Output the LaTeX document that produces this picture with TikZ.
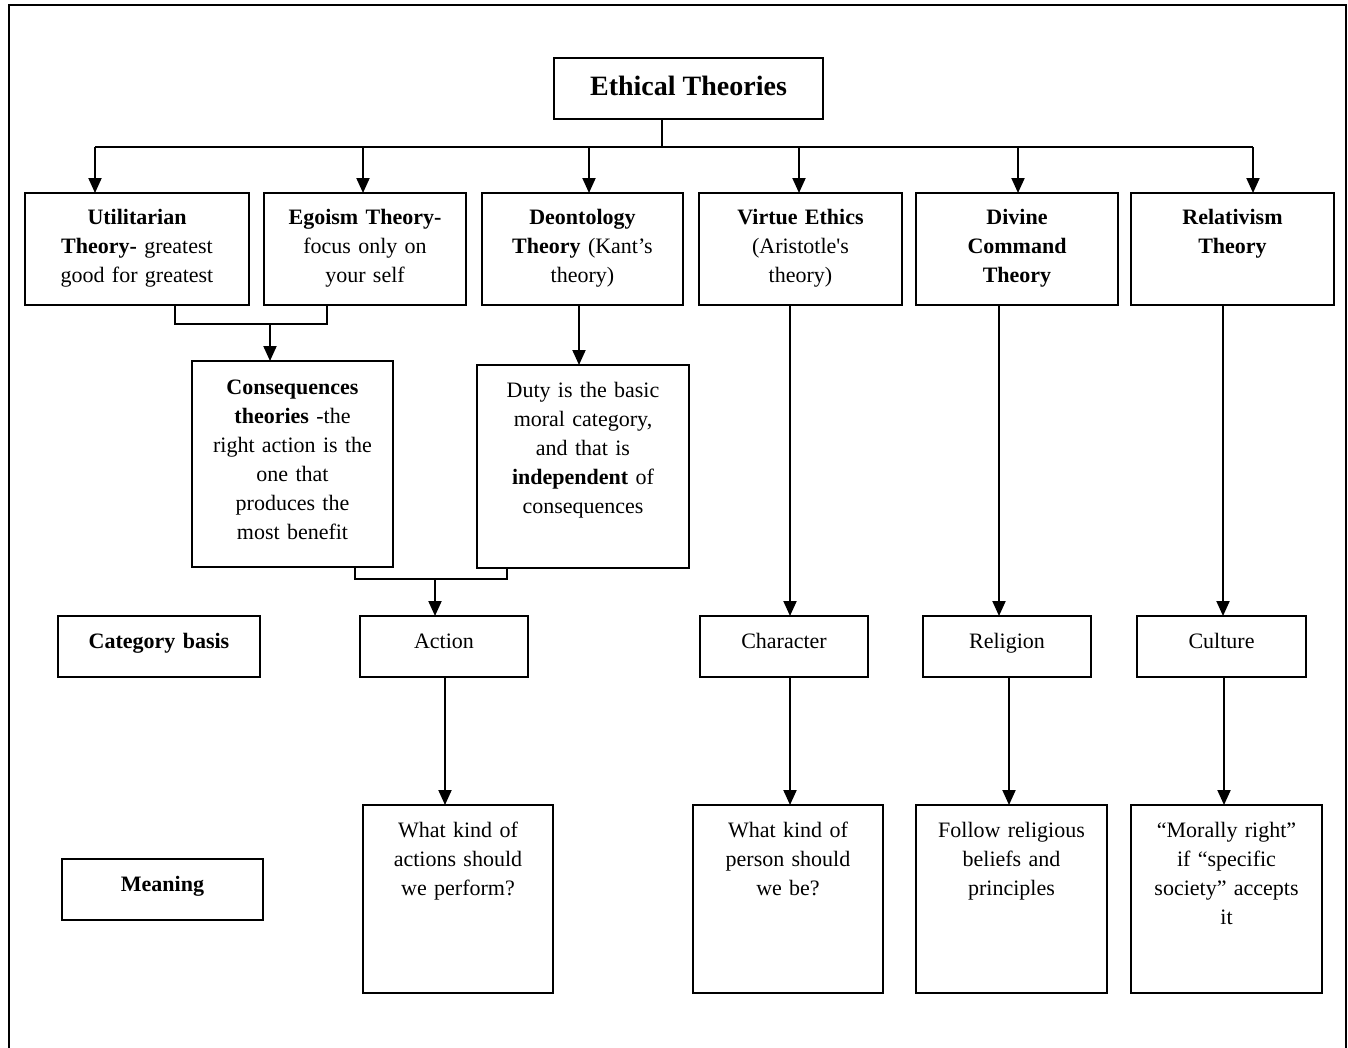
\documentclass[tikz,border=0pt]{standalone}
\usepackage{fontspec}
\setmainfont{Liberation Serif}[Ligatures=TeXOff]
\usetikzlibrary{arrows.meta}
\tikzset{
  box/.style={draw, line width=1.8pt, inner sep=0pt, outer sep=0pt},
  txt/.style={inner sep=0pt, outer sep=0pt, align=center, text width=240pt,
    font=\fontsize{22}{29}\selectfont},
  ln/.style={line width=2pt},
  arr/.style={line width=2pt, -{Triangle[length=15pt,width=13pt]}},
}
\newcommand\mkbox[7]{%
  \node[box, anchor=north west, minimum width={#4pt-#2pt}, minimum height={#5pt-#3pt}] (#1) at (#2,#3) {};
  \node[txt, anchor=base] (#1t) at ([yshift=-#6pt]#1.north) {#7};
}
\begin{document}
\begin{tikzpicture}[x=1pt,y=-1pt]
\useasboundingbox (0,0) rectangle (1348,1047);
% outer frame
\draw[line width=2pt] (9,1050) -- (9,5) -- (1346,5) -- (1346,1050);
% title
\node[box, anchor=north west, minimum width=269pt, minimum height=61pt] (title) at (554,58) {};
\node[inner sep=0pt, anchor=base, font=\fontsize{28}{32}\selectfont\bfseries] (titlet) at ([yshift=-37pt]title.north) {Ethical Theories};
% row 1
\mkbox{u}{25}{193}{249}{305}{31}{\textbf{Utilitarian}\\ \textbf{Theory-} greatest\\ good for greatest}
\mkbox{e}{264}{193}{466}{305}{31}{\textbf{Egoism Theory-}\\ focus only on\\ your self}
\mkbox{d}{482}{193}{683}{305}{31}{\textbf{Deontology}\\ \textbf{Theory} (Kant’s\\ theory)}
\mkbox{v}{699}{193}{902}{305}{31}{\textbf{Virtue Ethics}\\ (Aristotle's\\ theory)}
\mkbox{dv}{916}{193}{1118}{305}{31}{\textbf{Divine}\\ \textbf{Command}\\ \textbf{Theory}}
\mkbox{r}{1131}{193}{1334}{305}{31}{\textbf{Relativism}\\ \textbf{Theory}}
% row 2
\mkbox{cq}{192}{361}{393}{567}{33}{\textbf{Consequences}\\ \textbf{theories} -the\\ right action is the\\ one that\\ produces the\\ most benefit}
\mkbox{du}{477}{365}{689}{568}{32}{Duty is the basic\\ moral category,\\ and that is\\ \textbf{independent} of\\ consequences}
% row 3
\mkbox{cat}{58}{616}{260}{677}{32}{\textbf{Category basis}}
\mkbox{act}{360}{616}{528}{677}{32}{Action}
\mkbox{chr}{700}{616}{868}{677}{32}{Character}
\mkbox{rel}{923}{616}{1091}{677}{32}{Religion}
\mkbox{cul}{1137}{616}{1306}{677}{32}{Culture}
% row 4
\mkbox{mean}{62}{859}{263}{920}{32}{\textbf{Meaning}}
\mkbox{m1}{363}{805}{553}{993}{32}{What kind of\\ actions should\\ we perform?}
\mkbox{m2}{693}{805}{883}{993}{32}{What kind of\\ person should\\ we be?}
\mkbox{m3}{916}{805}{1107}{993}{32}{Follow religious\\ beliefs and\\ principles}
\mkbox{m4}{1131}{805}{1322}{993}{32}{“Morally right”\\ if “specific\\ society” accepts\\ it}
% top connectors
\coordinate (hub) at (662,147);
\coordinate (a1) at (95,147);
\coordinate (a2) at (363,147);
\coordinate (a3) at (589,147);
\coordinate (a4) at (799,147);
\coordinate (a5) at (1018,147);
\coordinate (a6) at (1253,147);
\draw[ln] (title.south -| hub) -- (hub);
\draw[ln] (a1) -- (a6);
\draw[arr] (a1) -- (a1 |- u.north);
\draw[arr] (a2) -- (a2 |- e.north);
\draw[arr] (a3) -- (a3 |- d.north);
\draw[arr] (a4) -- (a4 |- v.north);
\draw[arr] (a5) -- (a5 |- dv.north);
\draw[arr] (a6) -- (a6 |- r.north);
% utilitarian + egoism -> consequences
\coordinate (j1a) at (175,324);
\coordinate (j1b) at (327,324);
\coordinate (j1c) at (270,324);
\draw[ln] (j1a |- u.south) -- (j1a) -- (j1b) -- (j1b |- e.south);
\draw[arr] (j1c) -- (j1c |- cq.north);
% deontology -> duty
\coordinate (dd) at (579,305);
\draw[arr] (dd |- d.south) -- (dd |- du.north);
% consequences + duty -> action
\coordinate (j2a) at (355,579);
\coordinate (j2b) at (507,579);
\coordinate (j2c) at (435,579);
\draw[ln] (j2a |- cq.south) -- (j2a) -- (j2b) -- (j2b |- du.south);
\draw[arr] (j2c) -- (j2c |- act.north);
% long verticals
\coordinate (vx) at (790,0);
\coordinate (dvx) at (999,0);
\coordinate (rx) at (1223,0);
\draw[arr] (vx |- v.south) -- (vx |- chr.north);
\draw[arr] (dvx |- dv.south) -- (dvx |- rel.north);
\draw[arr] (rx |- r.south) -- (rx |- cul.north);
% category -> meaning
\coordinate (ax) at (445,0);
\coordinate (rlx) at (1009,0);
\coordinate (cux) at (1224,0);
\draw[arr] (ax |- act.south) -- (ax |- m1.north);
\draw[arr] (vx |- chr.south) -- (vx |- m2.north);
\draw[arr] (rlx |- rel.south) -- (rlx |- m3.north);
\draw[arr] (cux |- cul.south) -- (cux |- m4.north);
\end{tikzpicture}
\end{document}
